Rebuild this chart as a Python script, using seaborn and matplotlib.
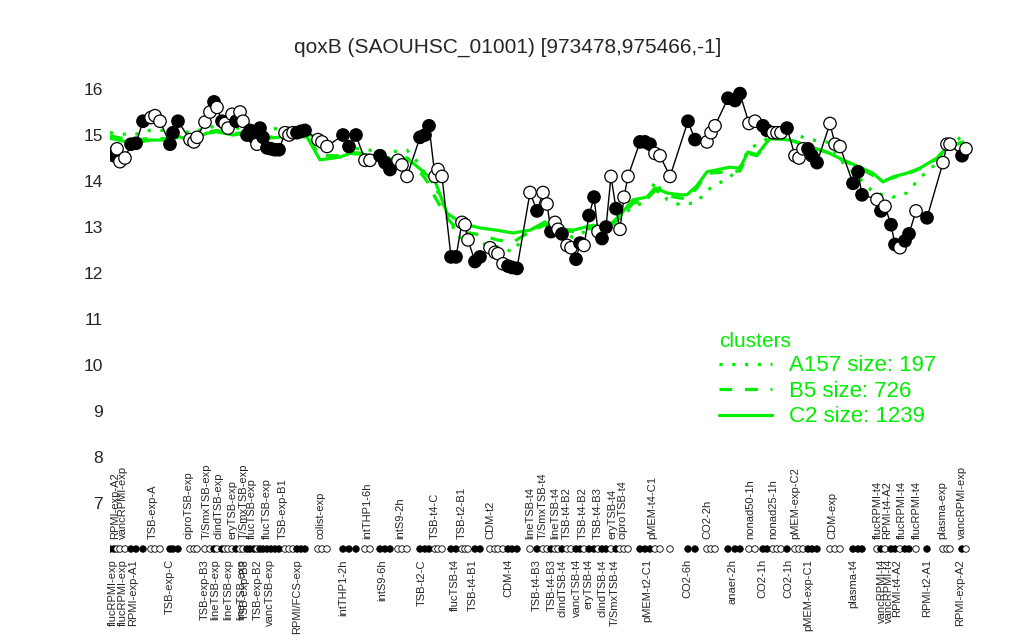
import matplotlib
matplotlib.use('Agg')
import pandas as pd
import matplotlib.pyplot as plt
import seaborn as sns
from matplotlib.lines import Line2D

# Dados
titulo = 'qoxB (SAOUHSC_01001) [973478,975466,-1]'

posicao = [10, 14, 17, 20, 25, 31, 36, 43, 51, 55, 60, 70, 73, 78, 90, 94, 97,
           105, 110, 114, 117, 122, 125, 128, 132, 136, 140, 143, 147, 150, 154,
           157, 160, 163, 167, 171, 175, 179, 185, 189, 193, 197, 201, 205, 218,
           222, 227, 243, 249, 256, 265, 270, 280, 285, 290, 298, 302, 307, 320,
           325, 329, 335, 338, 342, 351, 356, 362, 365, 368, 375, 380, 390, 395,
           398, 403, 408, 412, 417, 430, 437, 443, 447, 451, 455, 458, 462, 467,
           471, 476, 480, 484, 489, 494, 498, 502, 506, 511, 516, 520, 524, 528,
           540, 545, 550, 555, 560, 570, 588, 595, 607, 611, 615, 628, 635, 640,
           649, 655, 663, 667, 673, 677, 681, 687, 695, 699, 703, 708, 712, 717,
           730, 735, 740, 753, 758, 762, 777, 781, 785, 791, 795, 800, 805, 809,
           816, 827, 843, 847, 850, 862, 866]
valor = [14.6, 14.55, 14.7, 14.42, 14.5, 14.8, 14.82, 15.3, 15.38, 15.42, 15.3,
         14.8, 15.05, 15.3, 14.9, 14.85, 14.95, 15.28, 15.5, 15.72, 15.6, 15.3,
         15.25, 15.15, 15.45, 15.3, 15.5, 15.3, 15.0, 15.1, 14.95, 14.8, 15.15,
         14.95, 14.72, 14.7, 14.68, 14.68, 15.05, 15.0, 15.05, 15.05, 15.08, 15.1,
         14.9, 14.85, 14.75, 15.0, 14.75, 15.0, 14.45, 14.45, 14.55, 14.4, 14.25,
         14.45, 14.35, 14.1, 14.95, 15.0, 15.2, 14.1, 14.25, 14.1, 12.35, 12.35,
         13.1, 13.05, 12.72, 12.25, 12.35, 12.55, 12.45, 12.42, 12.2, 12.15,
         12.12, 12.1, 13.75, 13.35, 13.75, 13.5, 12.9, 13.1, 12.95, 12.85, 12.6,
         12.55, 12.3, 12.65, 12.6, 13.25, 13.65, 12.9, 12.75, 13.0, 14.1, 13.4,
         12.95, 13.65, 14.1, 14.85, 14.85, 14.8, 14.6, 14.55, 14.1, 15.3, 14.9,
         14.85, 15.05, 15.2, 15.8, 15.75, 15.9, 15.25, 15.3, 15.2, 15.1, 15.05,
         15.05, 15.05, 15.15, 14.55, 14.5, 14.7, 14.7, 14.55, 14.4, 15.25, 14.8,
         14.75, 13.95, 14.2, 13.7, 13.6, 13.35, 13.45, 13.05, 12.62, 12.55, 12.7,
         12.85, 13.35, 13.2, 14.4, 14.8, 14.8, 14.55, 14.7]
cheio = [1, 1, 0, 0, 0, 1, 1, 1, 0, 0, 0, 1, 1, 1, 0, 0, 0,
         0, 0, 1, 0, 1, 0, 0, 0, 1, 0, 0, 1, 1, 1,
         0, 1, 1, 1, 1, 1, 1, 0, 0, 0, 1, 1, 1, 0,
         0, 0, 1, 1, 1, 0, 0, 1, 1, 1, 0, 0, 0, 1,
         1, 1, 0, 0, 0, 1, 1, 0, 0, 0, 1, 1, 0, 0,
         0, 0, 1, 1, 1, 0, 1, 0, 0, 1, 0, 0, 1, 0,
         0, 1, 1, 0, 1, 1, 0, 1, 1, 0, 1, 0, 0, 0,
         1, 1, 1, 0, 0, 0, 1, 1, 0, 0, 0, 1, 1, 1,
         0, 0, 1, 1, 0, 0, 0, 1, 0, 0, 0, 1, 1, 1,
         0, 0, 0, 1, 1, 1, 0, 1, 0, 1, 1, 0, 1, 1,
         0, 1, 0, 0, 0, 1, 0]

rotulos_cima = ['RPMI-exp-A2', 'vancRPMI-exp', 'TSB-exp-A', 'ciproTSB-exp',
                'T/SmxTSB-exp', 'clindTSB-exp', 'eryTSB-exp', 'T/SmxTSB-exp',
                'flucTSB-exp', 'flucTSB-exp', 'TSB-exp-B1', 'colist-exp',
                'intTHP1-6h', 'intS9-2h', 'TSB-t4-C', 'TSB-t2-B1', 'CDM-t2',
                'lineTSB-t4', 'T/SmxTSB-t4', 'lineTSB-t4', 'TSB-t4-B2',
                'TSB-t4-B2', 'TSB-t4-B3', 'eryTSB-t4', 'ciproTSB-t4',
                'pMEM-t4-C1', 'CO2-2h', 'nonad50-1h', 'nonad25-1h',
                'pMEM-exp-C2', 'CDM-exp', 'flucRPMI-t4', 'RPMI-t4-A2',
                'flucRPMI-t4', 'flucRPMI-t4', 'plasma-exp', 'vancRPMI-exp']
pos_cima = [15, 23, 53, 89, 107, 118, 132, 144, 152, 167, 183, 220, 267, 300,
            335, 362, 390, 430, 443, 455, 467, 483, 498, 512, 522, 552, 607,
            650, 673, 695, 732, 778, 787, 802, 817, 842, 862]

rotulos_baixo = ['flucRPMI-exp', 'flucRPMI-exp', 'RPMI-exp-A1', 'TSB-exp-C',
                 'TSB-exp-B3', 'lineTSB-exp', 'lineTSB-exp', 'lineTSB-exp',
                 'TSB-exp-B3', 'TSB-exp-B2', 'vancTSB-exp', 'RPMI/FCS-exp',
                 'intTHP1-2h', 'intS9-6h', 'TSB-t2-C', 'flucTSB-t4',
                 'TSB-t4-B1', 'CDM-t4', 'TSB-t4-B3', 'TSB-t4-B3', 'clindTSB-t4',
                 'vancTSB-t4', 'eryTSB-t4', 'clindTSB-t4', 'T/SmxTSB-t4',
                 'pMEM-t2-C1', 'CO2-6h', 'anaer-2h', 'CO2-1h', 'CO2-1h',
                 'pMEM-exp-C1', 'plasma-t4', 'vancRPMI-t4', 'vancRPMI-t4',
                 'RPMI-t4-A2', 'RPMI-t2-A1', 'RPMI-exp-A2']
pos_baixo = [13, 23, 33, 70, 105, 115, 128, 141, 145, 158, 170, 197, 243, 282,
             322, 355, 373, 408, 437, 452, 462, 477, 488, 503, 515, 547, 587,
             632, 662, 688, 708, 753, 782, 789, 797, 827, 860]

# medias dos clusters
pos_linha = [10, 33, 50, 67, 80, 90, 107, 117, 133, 147, 167, 183, 207, 220,
             240, 250, 267, 283, 300, 307, 318, 327, 335, 347, 357, 367, 380,
             397, 413, 430, 445, 453, 473, 493, 507, 520, 533, 547, 555, 567,
             580, 587, 597, 607, 630, 640, 648, 657, 670, 690, 710, 727, 743,
             760, 773, 783, 793, 807, 820, 837, 847, 863]
c2 = [14.93, 14.82, 14.89, 14.89, 14.96, 14.89, 15.04, 15.07, 15.0, 15.04,
      14.93, 14.96, 14.96, 14.46, 14.52, 14.6, 14.57, 14.5, 14.46, 14.5, 14.3,
      14.13, 14.0, 13.3, 13.15, 13.05, 12.98, 12.93, 12.87, 12.93, 13.11,
      12.98, 12.93, 13.04, 12.98, 13.26, 13.59, 13.65, 13.85, 13.74, 13.7,
      13.7, 13.9, 14.2, 14.3, 14.28, 14.63, 14.57, 14.93, 14.89, 14.74, 14.63,
      14.46, 14.3, 14.17, 13.98, 14.09, 14.17, 14.28, 14.5, 14.74, 14.85]
b5 = [14.98, 14.88, 14.93, 14.92, 14.98, 14.92, 15.06, 15.1, 15.03, 15.06,
      14.95, 14.98, 14.97, 14.55, 14.55, 14.62, 14.6, 14.52, 14.48, 14.5,
      14.25, 14.0, 13.65, 13.2, 12.95, 12.88, 12.83, 12.72, 12.67, 12.9,
      13.05, 12.95, 12.9, 12.98, 12.95, 13.2, 13.52, 13.6, 13.8, 13.68,
      13.63, 13.62, 13.85, 14.17, 14.2, 14.22, 14.6, 14.55, 14.92, 14.9,
      14.75, 14.62, 14.45, 14.28, 14.12, 14.0, 14.07, 14.15, 14.27, 14.48,
      14.72, 14.85]
a157 = [15.05, 15.0, 15.1, 15.1, 15.1, 15.05, 15.15, 15.2, 15.15, 15.15,
        15.1, 15.17, 15.1, 14.78, 14.7, 14.72, 14.68, 14.63, 14.65, 14.67,
        14.4, 14.1, 13.9, 13.3, 12.8, 12.72, 12.65, 12.57, 12.46, 12.98,
        12.98, 12.9, 12.78, 12.98, 13.05, 13.2, 13.45, 13.55, 14.0, 13.6,
        13.48, 13.5, 13.54, 13.8, 14.09, 14.3, 14.67, 14.8, 14.95, 15.05,
        14.9, 14.85, 14.4, 14.05, 13.76, 13.7, 13.65, 13.74, 14.07, 14.39,
        14.7, 15.0]

clusters = ['A157 size: 197', 'B5 size: 726', 'C2 size: 1239']
verde = '#00ee00'


def montar_grafico():
    sns.set_theme(style='white')
    plt.rcParams['font.family'] = ['Liberation Sans', 'DejaVu Sans']

    fig = plt.figure(figsize=(10.24, 6.4), dpi=100)
    ax = fig.add_axes([110 / 1024, 0, 865 / 1024, 1])
    ax.set_xlim(10, 875)
    ax.set_ylim(4.022, 17.935)

    # linhas dos clusters
    linhas = pd.DataFrame({
        'pos': pos_linha * 3,
        'valor': a157 + b5 + c2,
        'cluster': [clusters[0]] * len(a157) + [clusters[1]] * len(b5)
                   + [clusters[2]] * len(c2),
    })
    estilos = {clusters[0]: (1, 3), clusters[1]: (4, 4), clusters[2]: ''}
    sns.lineplot(data=linhas, x='pos', y='valor', style='cluster',
                 dashes=estilos, color=verde, linewidth=2.3, estimator=None,
                 sort=False, legend=False, ax=ax, zorder=2)

    # perfil do gene
    pontos = pd.DataFrame({'pos': posicao, 'valor': valor,
                           'tipo': ['cheio' if c else 'vazio' for c in cheio]})
    ax.plot(pontos['pos'], pontos['valor'], color='black', lw=1.0, zorder=3)
    cores = {'cheio': 'black', 'vazio': 'white'}
    sns.scatterplot(data=pontos, x='pos', y='valor', hue='tipo', palette=cores,
                    edgecolor='black', s=80, linewidth=0.9, legend=False,
                    ax=ax, zorder=4)

    # fileira de amostras
    pontos['linha'] = 6.0
    sns.scatterplot(data=pontos, x='pos', y='linha', hue='tipo', palette=cores,
                    edgecolor='black', s=22, linewidth=0.6, legend=False,
                    ax=ax, zorder=4)

    for p, r in zip(pos_cima, rotulos_cima):
        ax.text(p, 6.22, r, rotation=90, ha='center', va='bottom', fontsize=8)
    for p, r in zip(pos_baixo, rotulos_baixo):
        ax.text(p, 5.78, r, rotation=90, ha='center', va='top', fontsize=8)

    fig.text(508 / 1024, 1 - 47 / 640, titulo, ha='center', va='center',
             fontsize=15)

    ax.set_yticks(range(7, 17))
    ax.set_xticks([])
    ax.tick_params(axis='y', length=0, pad=5, labelsize=12.5)
    ax.set_xlabel('')
    ax.set_ylabel('')
    for s in ax.spines.values():
        s.set_visible(False)

    # legenda
    alcas = [Line2D([], [], color=verde, lw=2.3, dashes=(1, 3)),
             Line2D([], [], color=verde, lw=2.3, dashes=(4, 4)),
             Line2D([], [], color=verde, lw=2.3)]
    leg = ax.legend(alcas, clusters, title='clusters', loc='upper left',
                    bbox_to_anchor=(719 / 1024, 1 - 332 / 640),
                    bbox_transform=fig.transFigure, frameon=False,
                    fontsize=16, title_fontsize=15, handlelength=2.4,
                    labelspacing=0.2, borderpad=0, borderaxespad=0,
                    handletextpad=0.75)
    leg._legend_box.align = 'left'
    leg.get_title().set_color(verde)
    for t in leg.get_texts():
        t.set_color(verde)

    fig.savefig('out.png', dpi=100)
    plt.close(fig)


if __name__ == '__main__':
    montar_grafico()
